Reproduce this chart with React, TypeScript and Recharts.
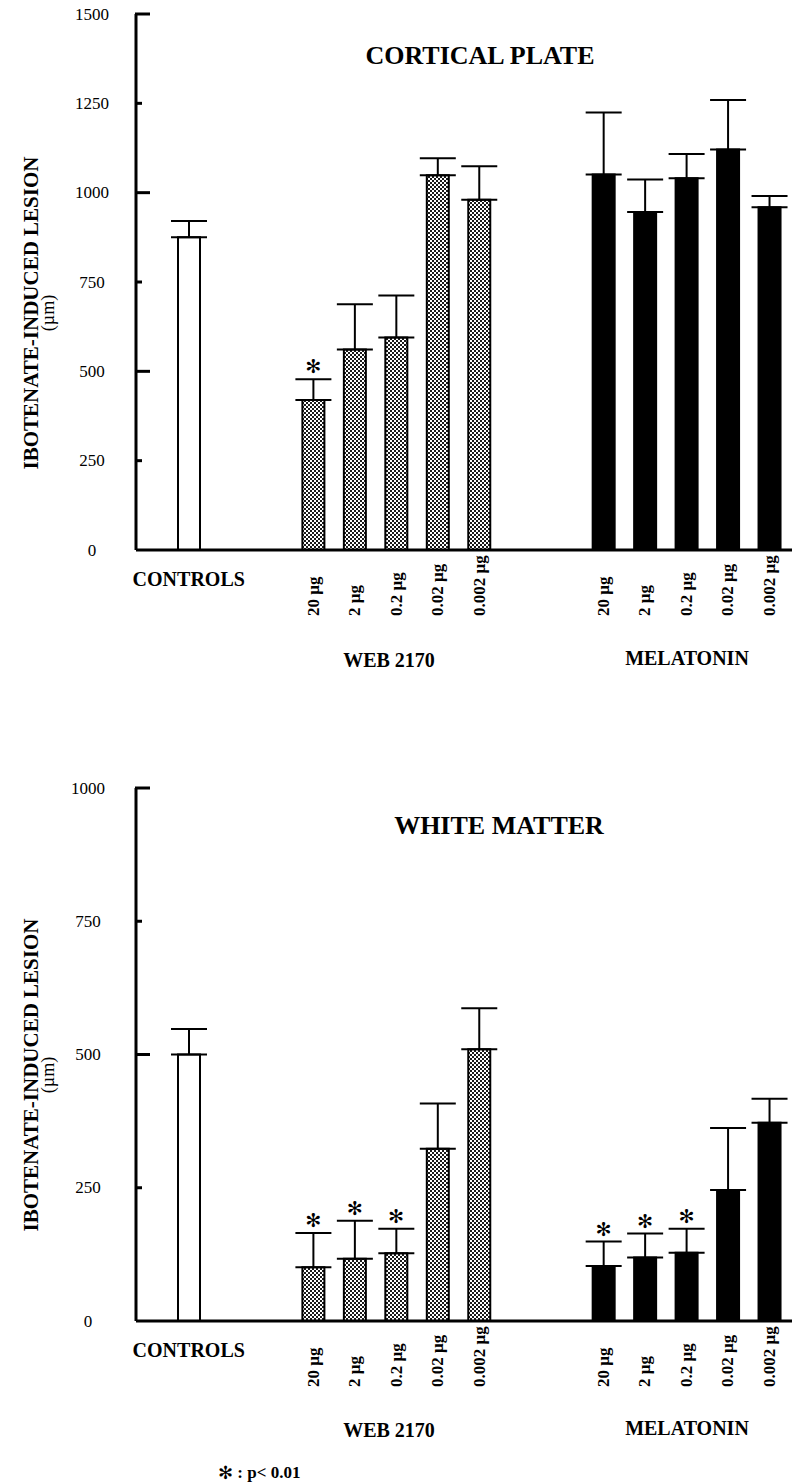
import React from "react";
import { BarChart, Bar, XAxis, YAxis, ErrorBar, Cell, LabelList, ReferenceLine } from "recharts";

const doses = ["20 µg", "2 µg", "0.2 µg", "0.02 µg", "0.002 µg"];

// cortical plate (µm, mean + SEM)
const cpControl = 875;
const cpControlSem = 46;
const cpWeb = [420, 561, 595, 1049, 980];
const cpWebSem = [58, 127, 117, 47, 94];
const cpWebSig = [true, false, false, false, false];
const cpMel = [1051, 946, 1040, 1121, 959];
const cpMelSem = [173, 91, 68, 138, 32];
const cpMelSig = [false, false, false, false, false];
const cpTicks = [0, 250, 500, 750, 1000, 1250, 1500];

// white matter
const wmControl = 500;
const wmControlSem = 48;
const wmWeb = [101, 117, 127, 323, 510];
const wmWebSem = [64, 71, 46, 85, 77];
const wmWebSig = [true, true, true, false, false];
const wmMel = [103, 119, 128, 246, 372];
const wmMelSem = [46, 45, 45, 116, 45];
const wmMelSig = [true, true, true, false, false];
const wmTicks = [0, 250, 500, 750, 1000];

const SERIF = "Liberation Serif, Tinos, Times New Roman, Times, DejaVu Serif, serif";
const AXIS_X = 136;

type Row = {
  key: string;
  label: string;
  group: "ctrl" | "web" | "mel" | "gap";
  value: number | null;
  err: [number, number] | null;
  sig: boolean;
};

function buildRows(
  ctrl: number, ctrlSem: number,
  web: number[], webSem: number[], webSig: boolean[],
  mel: number[], melSem: number[], melSig: boolean[]
): Row[] {
  const gap = (k: string): Row => ({ key: k, label: "", group: "gap", value: null, err: null, sig: false });
  const rows: Row[] = [];
  rows.push({ key: "ctrl", label: "CONTROLS", group: "ctrl", value: ctrl, err: [0, ctrlSem], sig: false });
  rows.push(gap("g1"), gap("g2"));
  doses.forEach((d, i) =>
    rows.push({ key: "web" + i, label: d, group: "web", value: web[i], err: [0, webSem[i]], sig: webSig[i] })
  );
  rows.push(gap("g3"), gap("g4"));
  doses.forEach((d, i) =>
    rows.push({ key: "mel" + i, label: d, group: "mel", value: mel[i], err: [0, melSem[i]], sig: melSig[i] })
  );
  return rows;
}

const cpRows = buildRows(cpControl, cpControlSem, cpWeb, cpWebSem, cpWebSig, cpMel, cpMelSem, cpMelSig);
const wmRows = buildRows(wmControl, wmControlSem, wmWeb, wmWebSem, wmWebSig, wmMel, wmMelSem, wmMelSig);

function YTick(props: any) {
  const { y, payload, labelX } = props;
  return (
    <text x={labelX} y={y} textAnchor="middle" dominantBaseline="central" style={{ fontFamily: SERIF }} fontSize={17} fill="#000">
      {payload.value}
    </text>
  );
}

// short inward tick drawn from the left edge of the plot
function InTick(props: any) {
  const { x1, y1, len } = props;
  return <line x1={x1 - 1} x2={x1 + len} y1={y1} y2={y1} stroke="#000" strokeWidth={3} />;
}

function XTick(props: any) {
  const { x, y, payload, rows } = props;
  const row: Row = rows[payload.index];
  if (!row || row.group === "gap") return null;
  if (row.group === "ctrl") {
    return (
      <text x={x} y={y + 29} textAnchor="middle" dominantBaseline="central" style={{ fontFamily: SERIF }} fontWeight="bold" fontSize={20} fill="#000">
        {row.label}
      </text>
    );
  }
  return (
    <text
      transform={`translate(${x},${y + 66}) rotate(-90)`}
      textAnchor="start"
      dominantBaseline="central"
      style={{ fontFamily: SERIF }}
      fontWeight="bold"
      fontSize={17}
      fill="#000"
    >
      {row.label}
    </text>
  );
}

function Star(props: any) {
  const { x, y, width, height, value, rows } = props;
  const row = (rows as Row[]).find((r) => r.key === value);
  if (!row || !row.sig || !row.value || !row.err) return null;
  const top = y - row.err[1] * (height / row.value);
  return (
    <text x={x + width / 2} y={top - 13} textAnchor="middle" dominantBaseline="central" style={{ fontFamily: "DejaVu Sans, sans-serif" }} fontWeight="bold" fontSize={19} fill="#000">
      ✻
    </text>
  );
}

function LesionChart({ rows, ticks, max, marginTop, height, xHeight, labelX, id }: {
  rows: Row[]; ticks: number[]; max: number; marginTop: number; height: number; xHeight: number; labelX: number; id: string;
}) {
  const fillFor = (g: string) => (g === "ctrl" ? "#fff" : g === "web" ? `url(#${id})` : "#000");
  return (
    <BarChart width={792} height={height} data={rows} margin={{ top: marginTop, right: 0, bottom: 0, left: 0 }}>
      <defs>
        <pattern id={id} width={4} height={4} patternUnits="userSpaceOnUse">
          <rect width={4} height={4} fill="#fff" />
          <rect x={0} y={0} width={2} height={2} fill="#1a1a1a" />
          <rect x={2} y={2} width={2} height={2} fill="#1a1a1a" />
        </pattern>
      </defs>
      <XAxis
        dataKey="key"
        type="category"
        interval={0}
        height={xHeight}
        padding={{ left: 32, right: 2 }}
        axisLine={{ stroke: "#000", strokeWidth: 3 }}
        tickLine={false}
        tickSize={0}
        tickMargin={0}
        tick={<XTick rows={rows} />}
      />
      <YAxis
        type="number"
        domain={[0, max]}
        ticks={ticks}
        interval={0}
        width={AXIS_X}
        axisLine={{ stroke: "#000", strokeWidth: 3 }}
        tickLine={false}
        tickSize={0}
        tickMargin={0}
        tick={<YTick labelX={labelX} />}
      />
      {ticks
        .filter((t) => t !== 0)
        .map((t) => (
          <ReferenceLine key={t} y={t} ifOverflow="visible" shape={<InTick len={t % 500 === 0 ? 14 : 6} />} />
        ))}
      <Bar dataKey="value" barSize={22} stroke="#000" strokeWidth={2} isAnimationActive={false}>
        {rows.map((r) => (
          <Cell key={r.key} fill={fillFor(r.group)} />
        ))}
        <ErrorBar dataKey="err" direction="y" width={18} stroke="#000" strokeWidth={2} />
        <LabelList dataKey="key" content={(p: any) => <Star {...p} rows={rows} />} />
      </Bar>
    </BarChart>
  );
}

function TextLayer() {
  const bold = { style: { fontFamily: SERIF }, fontWeight: "bold" as const, fill: "#000" };
  const plain = { style: { fontFamily: SERIF }, fill: "#000" };
  return (
    <svg width={792} height={1484} style={{ position: "absolute", left: 0, top: 0, pointerEvents: "none" }}>
      <text x={480} y={55} textAnchor="middle" dominantBaseline="central" fontSize={26} {...bold}>CORTICAL PLATE</text>
      <text transform="translate(31,313) rotate(-90)" textAnchor="middle" dominantBaseline="central" fontSize={21} {...bold}>
        IBOTENATE-INDUCED LESION
      </text>
      <text transform="translate(48,313) rotate(-90)" textAnchor="middle" dominantBaseline="central" fontSize={18} {...plain}>
        (µm)
      </text>
      <text x={389} y={660} textAnchor="middle" dominantBaseline="central" fontSize={20} {...bold}>WEB 2170</text>
      <text x={687} y={658} textAnchor="middle" dominantBaseline="central" fontSize={20} {...bold}>MELATONIN</text>

      <text x={499} y={825} textAnchor="middle" dominantBaseline="central" fontSize={26} {...bold}>WHITE MATTER</text>
      <text transform="translate(31,1075) rotate(-90)" textAnchor="middle" dominantBaseline="central" fontSize={21} {...bold}>
        IBOTENATE-INDUCED LESION
      </text>
      <text transform="translate(48,1075) rotate(-90)" textAnchor="middle" dominantBaseline="central" fontSize={18} {...plain}>
        (µm)
      </text>
      <text x={389} y={1430} textAnchor="middle" dominantBaseline="central" fontSize={20} {...bold}>WEB 2170</text>
      <text x={687} y={1428} textAnchor="middle" dominantBaseline="central" fontSize={20} {...bold}>MELATONIN</text>

      <text x={218} y={1472} dominantBaseline="central" fontSize={17} {...bold}>
        <tspan style={{ fontFamily: "DejaVu Sans, sans-serif" }} fontSize={18}>✻</tspan> : p&lt; 0.01
      </text>
    </svg>
  );
}

export default function App() {
  return (
    <div style={{ position: "absolute", left: 0, top: 0, width: 792, height: 1484, background: "#fff" }}>
      <div style={{ position: "absolute", left: 0, top: 0 }}>
        <LesionChart rows={cpRows} ticks={cpTicks} max={1500} marginTop={14} height={720} xHeight={170} labelX={92} id="dots-cp" />
      </div>
      <div style={{ position: "absolute", left: 0, top: 720 }}>
        <LesionChart rows={wmRows} ticks={wmTicks} max={1000} marginTop={68} height={764} xHeight={163} labelX={88} id="dots-wm" />
      </div>
      <TextLayer />
    </div>
  );
}
